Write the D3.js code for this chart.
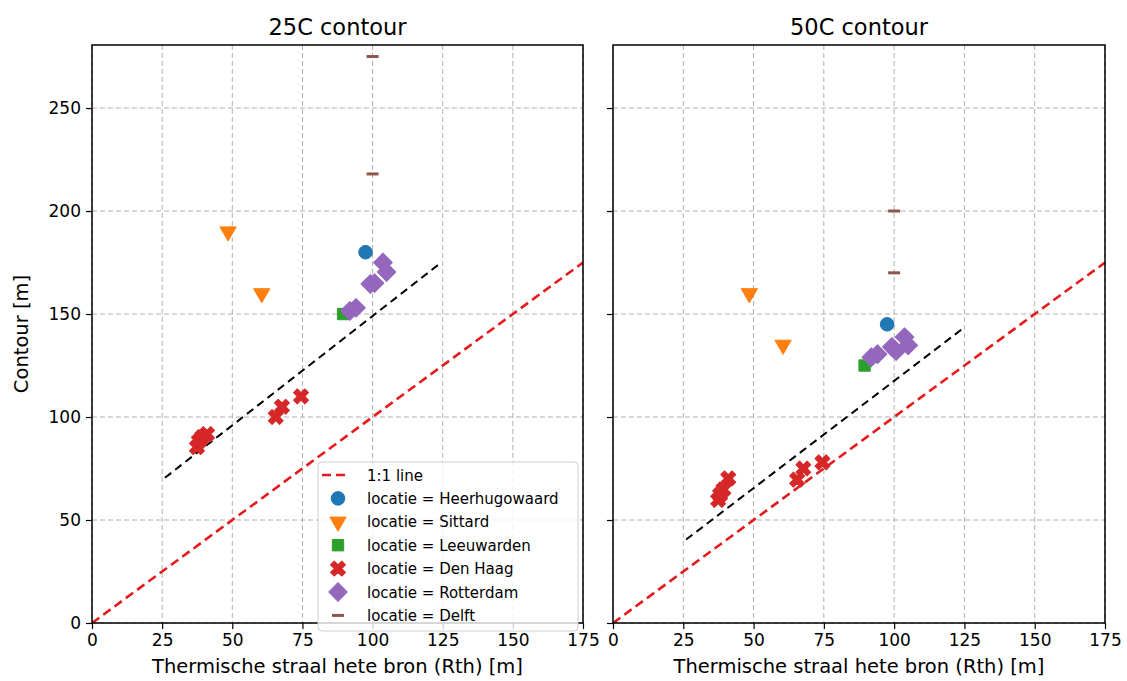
<!DOCTYPE html>
<html><head><meta charset="utf-8">
<script src="https://cdn.jsdelivr.net/npm/d3@7"></script>
<style>body{margin:0;background:#fff}svg{display:block;font-family:"DejaVu Sans",sans-serif}</style>
</head><body><svg id="c" width="1127" height="681"></svg>
<script>
const locations = ["Heerhugowaard","Sittard","Leeuwarden","Den Haag","Rotterdam","Delft"];
const colors = ["#1f77b4","#ff7f0e","#2ca02c","#d62728","#9467bd","#8c564b"];
const titles = ["25C contour","50C contour"];
const xTicks = [0,25,50,75,100,125,150,175];
const yTicks = [0,50,100,150,200,250];

const rthHHW = [97.5];
const rthSittard = [48.5, 60.5];
const rthLeeuwarden = [89.5];
const rthDenHaag = [37.4, 38.1, 39.3, 41, 65.5, 67.7, 74.5];
const rthRotterdam = [91.9, 94.1, 99.2, 100.7, 103.7, 105.0];
const rthDelft = [100, 100];

const c25HHW = [180];
const c25Sittard = [190, 160];
const c25Leeuwarden = [150];
const c25DenHaag = [85.4, 88.3, 90.3, 91.7, 100, 105, 110];
const c25Rotterdam = [151.5, 153, 164.6, 165, 175, 170.4];
const c25Delft = [275, 218];

const c50HHW = [145];
const c50Sittard = [160, 135];
const c50Leeuwarden = [125];
const c50DenHaag = [59.7, 62.3, 64.8, 70.2, 69.6, 75.0, 78.0];
const c50Rotterdam = [129, 130.5, 134, 132, 138.8, 134.8];
const c50Delft = [200, 170];

const fit25 = [[26, 70.5],[124, 174.5]];
const fit50 = [[26, 40.5],[124, 142.5]];
const oneToOne = [[0,0],[175,175]];

const rthAll = [rthHHW, rthSittard, rthLeeuwarden, rthDenHaag, rthRotterdam, rthDelft];
const panels = [
  {title: titles[0], cs: [c25HHW,c25Sittard,c25Leeuwarden,c25DenHaag,c25Rotterdam,c25Delft], fit: fit25, x0: 92, x1: 583, ylab: true, legend: true},
  {title: titles[1], cs: [c50HHW,c50Sittard,c50Leeuwarden,c50DenHaag,c50Rotterdam,c50Delft], fit: fit50, x0: 613, x1: 1105, ylab: false, legend: false}
];

const svg = d3.select("#c");
svg.append("rect").attr("width",1127).attr("height",681).attr("fill","#fff");
const yTop = 45, yBot = 623;
const y = d3.scaleLinear().domain([0, 280.6]).range([yBot, yTop]);

function marker(g, i, cx, cy) {
  const col = colors[i];
  let sym;
  if (i === 0) sym = g.append("path").attr("d", d3.symbol(d3.symbolCircle, 145)()).attr("transform",`translate(${cx},${cy})`);
  else if (i === 1) sym = g.append("path").attr("d", d3.symbol(d3.symbolTriangle, 115)()).attr("transform",`translate(${cx},${cy}) rotate(180)`);
  else if (i === 2) sym = g.append("path").attr("d", d3.symbol(d3.symbolSquare, 130)()).attr("transform",`translate(${cx},${cy})`);
  else if (i === 3) sym = g.append("path").attr("d", d3.symbol(d3.symbolCross, 140)()).attr("transform",`translate(${cx},${cy}) rotate(45)`);
  else if (i === 4) sym = g.append("path").attr("d", d3.symbol(d3.symbolSquare, 175)()).attr("transform",`translate(${cx},${cy}) rotate(45)`);
  else { g.append("line").attr("x1",cx-6).attr("x2",cx+6).attr("y1",cy).attr("y2",cy).attr("stroke",col).attr("stroke-width",3); return; }
  sym.attr("fill", col).attr("stroke", col).attr("stroke-width", 1).attr("stroke-linejoin","round");
}

panels.forEach(p => {
  const x = d3.scaleLinear().domain([0,175]).range([p.x0, p.x1]);
  const g = svg.append("g");
  const grid = g.append("g").attr("stroke","#b0b0b0").attr("stroke-width",1).attr("stroke-dasharray","5,3");
  xTicks.forEach(t => grid.append("line").attr("x1",x(t)).attr("x2",x(t)).attr("y1",yTop).attr("y2",yBot));
  yTicks.forEach(t => grid.append("line").attr("x1",p.x0).attr("x2",p.x1).attr("y1",y(t)).attr("y2",y(t)));
  const clipId = "clip"+p.x0;
  svg.append("clipPath").attr("id",clipId).append("rect").attr("x",p.x0).attr("y",yTop).attr("width",p.x1-p.x0).attr("height",yBot-yTop);
  const plot = g.append("g").attr("clip-path",`url(#${clipId})`);
  const line = d3.line().x(d=>x(d[0])).y(d=>y(d[1]));
  plot.append("path").attr("d", line(oneToOne)).attr("stroke","#e41a1c").attr("stroke-width",2.6).attr("stroke-dasharray","9,5").attr("fill","none");
  plot.append("path").attr("d", line(p.fit)).attr("stroke","#000").attr("stroke-width",2).attr("stroke-dasharray","8,5").attr("fill","none");
  p.cs.forEach((cs, i) => {
    cs.forEach((v, j) => marker(plot, i, x(rthAll[i][j]), y(v)));
  });
  const xa = g.append("g").attr("transform",`translate(0,${yBot})`).call(d3.axisBottom(x).tickValues(xTicks).tickSize(6).tickPadding(5));
  const ya = g.append("g").attr("transform",`translate(${p.x0},0)`).call(d3.axisLeft(y).tickValues(yTicks).tickSize(6).tickPadding(5).tickFormat(p.ylab ? d3.format("d") : () => ""));
  [xa, ya].forEach(a => {
    a.select(".domain").remove();
    a.selectAll("line").attr("stroke","#000").attr("stroke-width",1.2);
    a.selectAll("text").attr("fill","#000").style("font-size","17px").style("font-family","DejaVu Sans");
  });
  g.append("rect").attr("x",p.x0).attr("y",yTop).attr("width",p.x1-p.x0).attr("height",yBot-yTop).attr("fill","none").attr("stroke","#000").attr("stroke-width",1.5);
  svg.append("text").attr("x",(p.x0+p.x1)/2).attr("y",35).attr("text-anchor","middle").style("font-size","22.5px").text(p.title);
  svg.append("text").attr("x",(p.x0+p.x1)/2).attr("y",673).attr("text-anchor","middle").style("font-size","19.5px").text("Thermische straal hete bron (Rth) [m]");
  if (p.ylab) svg.append("text").attr("transform",`translate(28,${(yTop+yBot)/2}) rotate(-90)`).attr("text-anchor","middle").style("font-size","19.5px").text("Contour [m]");

  if (p.legend) {
    const lg = svg.append("g");
    lg.append("rect").attr("x",318).attr("y",462).attr("width",260).attr("height",169).attr("rx",4).attr("fill","#fff").attr("fill-opacity",0.8).attr("stroke","#d0d0d0");
    const labels = ["1:1 line"].concat(locations.map(l => "locatie = " + l));
    labels.forEach((t, k) => {
      const cy = 475 + k*23.4;
      if (k === 0) lg.append("line").attr("x1",322).attr("x2",350).attr("y1",cy).attr("y2",cy).attr("stroke","#e41a1c").attr("stroke-width",2.6).attr("stroke-dasharray","9,5");
      else marker(lg, k-1, 338, cy);
      lg.append("text").attr("x",367).attr("y",cy+5.5).style("font-size","15px").text(t);
    });
  }
});
</script></body></html>
